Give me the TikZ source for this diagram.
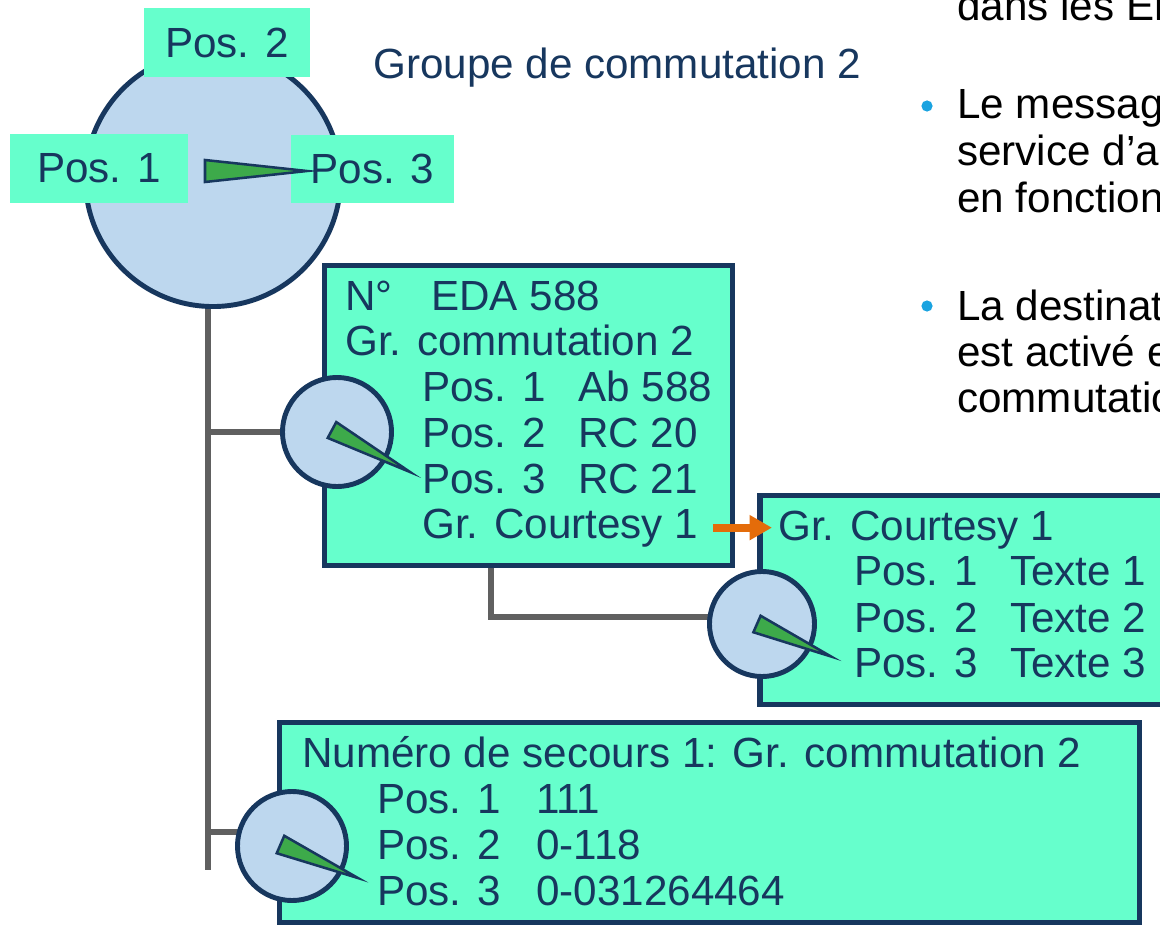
\documentclass[tikz,border=0pt]{standalone}
\usepackage{fontspec}
\setmainfont{Liberation Sans}
\usetikzlibrary{calc, arrows.meta, backgrounds}

\definecolor{navy}{HTML}{17375E}
\definecolor{mint}{HTML}{66FFCC}
\definecolor{paleblue}{HTML}{BDD7EE}
\definecolor{needlegreen}{HTML}{3DAA4A}
\definecolor{wiregray}{HTML}{606060}
\definecolor{courtesyorange}{HTML}{E46C0A}
\definecolor{bulletblue}{HTML}{1AA3E0}

\tikzstyle{dial} = [
    circle,
    draw=navy,
    line width=3.5pt,
    fill=paleblue,
    inner sep=0pt
]
\tikzstyle{panel} = [
    rectangle,
    draw=navy,
    line width=3.8pt,
    fill=mint,
    inner sep=0pt
]
\tikzstyle{posbox} = [
    rectangle,
    fill=mint,
    inner sep=0pt,
    text=navy,
    font=\fontsize{30}{36}\selectfont
]
\tikzstyle{txt} = [
    anchor=base west,
    inner sep=0pt,
    text=navy,
    font=\fontsize{30}{36}\selectfont
]
\tikzstyle{bodytxt} = [txt, text=black]
\tikzstyle{wire} = [draw=wiregray, line width=4.3pt]
\tikzstyle{needle} = [fill=needlegreen, draw=navy, line width=1.8pt]
\tikzstyle{arrow} = [draw=courtesyorange, line width=5.7pt, -{Triangle[length=16pt, width=17pt]}]
\tikzstyle{bulletdot} = [circle, fill=bulletblue, inner sep=0pt, minimum size=0.28cm]

% needle: base point, angle, length, half width
\newcommand{\needle}[4]{
  \filldraw[needle] ($#1+(#2+90:#4)$) -- ($#1+(#2-90:#4)$) -- ($#1+(#2:#3)$) -- cycle;
}
\newcommand{\poscol}[2]{\makebox[#1][l]{#2}}

\begin{document}
\begin{tikzpicture}[x=0.025cm, y=-0.025cm]
\useasboundingbox (0,0) rectangle (1160,927);

% switching group 2
\node (big) [dial, minimum size=6.375cm] at (213,179) {};
\node (pos2) [posbox, minimum width=4.15cm, minimum height=1.725cm] at (227,42.5) {Pos. 2};
\node (pos1) [posbox, minimum width=4.45cm, minimum height=1.725cm] at (99,168.5) {Pos. 1};
\node (pos3) [posbox, minimum width=4.075cm, minimum height=1.7cm] at (372.5,169) {Pos. 3};
\needle{(big)+(-8,-8)}{0}{102}{11}
\node (title) [txt] at (373,78) {Groupe de commutation 2};

% EDA 588
\node (eda) [panel, minimum width=10.2cm, minimum height=7.5cm] at (528.5,415.5) {};
\node (eda1) [txt] at (345,310) {\poscol{2.15cm}{N°}EDA 588};
\node (eda2) [txt] at (345,355) {Gr. commutation 2};
\node (eda3) [txt] at (422,401) {\poscol{3.9cm}{Pos. 1}Ab 588};
\node (eda4) [txt] at (422,447) {\poscol{3.9cm}{Pos. 2}RC 20};
\node (eda5) [txt] at (422,493) {\poscol{3.9cm}{Pos. 3}RC 21};
\node (eda6) [txt] at (422,538) {Gr. Courtesy 1};
\node (c1) [dial, minimum size=2.725cm] at (337,432) {};
\needle{(c1)+(-5,-2)}{28.3}{88.6}{9}

% courtesy group
\node (court) [panel, minimum width=10.3cm, minimum height=5.225cm] at (966,600) {};
\node (ct1) [txt] at (778,540) {Gr. Courtesy 1};
\node (ct2) [txt] at (854,585) {\poscol{3.9cm}{Pos. 1}Texte 1};
\node (ct3) [txt] at (854,632) {\poscol{3.9cm}{Pos. 2}Texte 2};
\node (ct4) [txt] at (854,677) {\poscol{3.9cm}{Pos. 3}Texte 3};
\node (c2) [dial, minimum size=2.625cm] at (762,624) {};
\needle{(c2)+(-5,0)}{23.7}{80.8}{9}

% emergency number
\node (sec) [panel, minimum width=21.5cm, minimum height=5cm] at (709.5,822.5) {};
\node (sec1) [txt] at (302,767) {Numéro de secours 1: Gr. commutation 2};
\node (sec2) [txt] at (377,813) {\poscol{3.975cm}{Pos. 1}111};
\node (sec3) [txt] at (377,859) {\poscol{3.975cm}{Pos. 2}0-118};
\node (sec4) [txt] at (377,905) {\poscol{3.975cm}{Pos. 3}0-031264464};
\node (c3) [dial, minimum size=2.725cm] at (292,846) {};
\needle{(c3)+(-11.5,-1.5)}{23.4}{84.4}{9.5}

% wiring
\coordinate (trunkend) at (208,870);
\coordinate (tap3) at (208,832);
\coordinate (tap2) at (491,617);
\begin{scope}[on background layer]
\draw[wire] (big.south -| trunkend) -- (trunkend);
\draw[wire] (c1 -| trunkend) -- (c1);
\draw[wire] (tap3) -- (tap3 -| c3);
\draw[wire] (eda.south -| tap2) -- (tap2) -- (tap2 -| c2);
\end{scope}

\draw[arrow] ($(eda6.east)+(15,0)$) -- ($(eda6.east -| ct1.west)+(-6,0)$);

% notes on the right
\node (b1) [bulletdot] at (927,106) {};
\node (b2) [bulletdot] at (927,306) {};
\node (n0) [bodytxt] at (957,21) {dans les En};
\node (n1) [bodytxt] at (957,118) {Le messag};
\node (n2) [bodytxt] at (957,165) {service d’a};
\node (n3) [bodytxt] at (957,212) {en fonction};
\node (n4) [bodytxt] at (957,320) {La destinat};
\node (n5) [bodytxt] at (957,366) {est activé e};
\node (n6) [bodytxt] at (957,412) {commutatio};

\end{tikzpicture}
\end{document}
